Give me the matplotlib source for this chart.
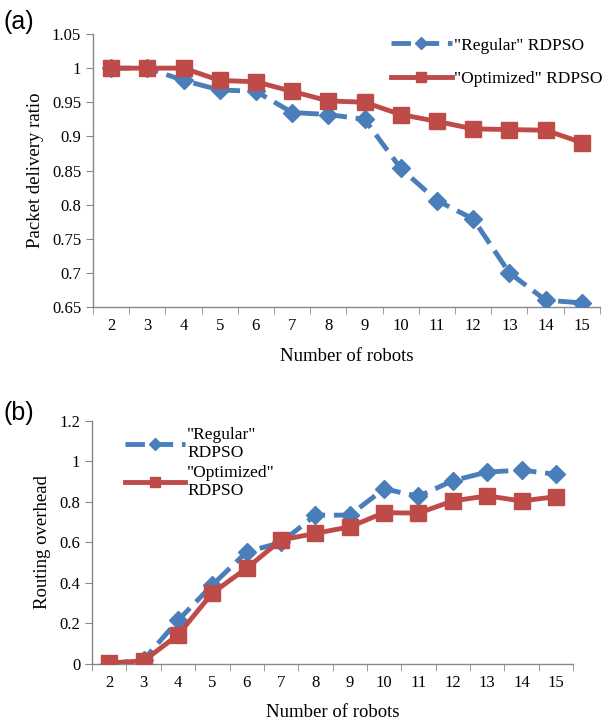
import matplotlib.pyplot as plt
import numpy as np

robots = [2, 3, 4, 5, 6, 7, 8, 9, 10, 11, 12, 13, 14, 15]

pdr_regular = [1.0, 1.0, 0.982, 0.968, 0.966, 0.935, 0.932, 0.925, 0.853, 0.806, 0.779, 0.700, 0.660, 0.656]
pdr_optimized = [1.0, 1.0, 1.0, 0.982, 0.980, 0.966, 0.952, 0.950, 0.932, 0.922, 0.911, 0.910, 0.909, 0.891]

ro_regular = [0.0, 0.02, 0.215, 0.39, 0.553, 0.60, 0.735, 0.735, 0.865, 0.828, 0.905, 0.948, 0.957, 0.937]
ro_optimized = [0.005, 0.015, 0.143, 0.35, 0.473, 0.612, 0.645, 0.677, 0.747, 0.745, 0.805, 0.83, 0.805, 0.826]

blue = '#4a7ebb'
red = '#be4b48'
serif = 'Liberation Serif'
sans = 'Liberation Sans'


def style_axes(ax, ylim, yticks, ylabels):
    x = np.arange(len(robots))
    ax.set_xlim(-0.5, len(robots) - 0.5)
    ax.set_ylim(*ylim)
    ax.set_xticks(x)
    ax.set_xticklabels([str(r) for r in robots], fontfamily=serif, fontsize=12)
    ax.set_xticks(np.arange(-0.5, len(robots), 1), minor=True)
    ax.tick_params(axis='x', which='major', length=0, pad=8)
    ax.tick_params(axis='x', which='minor', length=5, direction='out', color='#888888')
    ax.set_yticks(yticks)
    ax.set_yticklabels(ylabels, fontfamily=serif, fontsize=12)
    ax.tick_params(axis='y', length=5, direction='out', color='#888888')
    for s in ['top', 'right']:
        ax.spines[s].set_visible(False)
    for s in ['left', 'bottom']:
        ax.spines[s].set_color('#888888')
        ax.spines[s].set_linewidth(1)


def draw(ax, reg, opt, reg_label, opt_label):
    x = np.arange(len(robots))
    ax.plot(x, reg, color=blue, lw=3.5, linestyle=(0, (4, 1.8)), marker='D',
            markersize=9, label=reg_label, zorder=3)
    ax.plot(x, opt, color=red, lw=3.5, marker='s', markersize=11,
            label=opt_label, zorder=4)


fig = plt.figure(figsize=(6.02, 7.24), dpi=100)

ax1 = fig.add_axes([0.1545, 0.576, 0.842, 0.377])
draw(ax1, pdr_regular, pdr_optimized, '"Regular" RDPSO', '"Optimized" RDPSO')
yt = [0.65, 0.7, 0.75, 0.8, 0.85, 0.9, 0.95, 1.0, 1.05]
style_axes(ax1, (0.65, 1.05), yt, ['0.65', '0.7', '0.75', '0.8', '0.85', '0.9', '0.95', '1', '1.05'])
ax1.set_xlabel('Number of robots', fontfamily=serif, fontsize=13.5, labelpad=10)
ax1.set_ylabel('Packet delivery ratio', fontfamily=serif, fontsize=13.5, labelpad=6)
ax1.legend(loc='upper right', bbox_to_anchor=(1.035, 1.045), frameon=False,
           prop={'family': serif, 'size': 12.5}, handlelength=3.5, labelspacing=1.0,
           handletextpad=0.1, markerscale=0.65)
fig.text(0.005, 0.953, '(a)', fontfamily=sans, fontsize=18, va='bottom')

ax2 = fig.add_axes([0.153, 0.083, 0.799, 0.3355])
draw(ax2, ro_regular, ro_optimized, '"Regular"\nRDPSO', '"Optimized"\nRDPSO')
yt2 = [0, 0.2, 0.4, 0.6, 0.8, 1.0, 1.2]
style_axes(ax2, (0, 1.2), yt2, ['0', '0.2', '0.4', '0.6', '0.8', '1', '1.2'])
ax2.set_xlabel('Number of robots', fontfamily=serif, fontsize=13.5, labelpad=9)
ax2.set_ylabel('Routing overhead', fontfamily=serif, fontsize=13.5, labelpad=6)
ax2.legend(loc='upper left', bbox_to_anchor=(0.035, 1.04), frameon=False,
           prop={'family': serif, 'size': 12.5}, handlelength=3.5, labelspacing=0.2,
           handletextpad=0.1, markerscale=0.65)
fig.text(0.005, 0.413, '(b)', fontfamily=sans, fontsize=18, va='bottom')

fig.savefig('out.png', dpi=100)
